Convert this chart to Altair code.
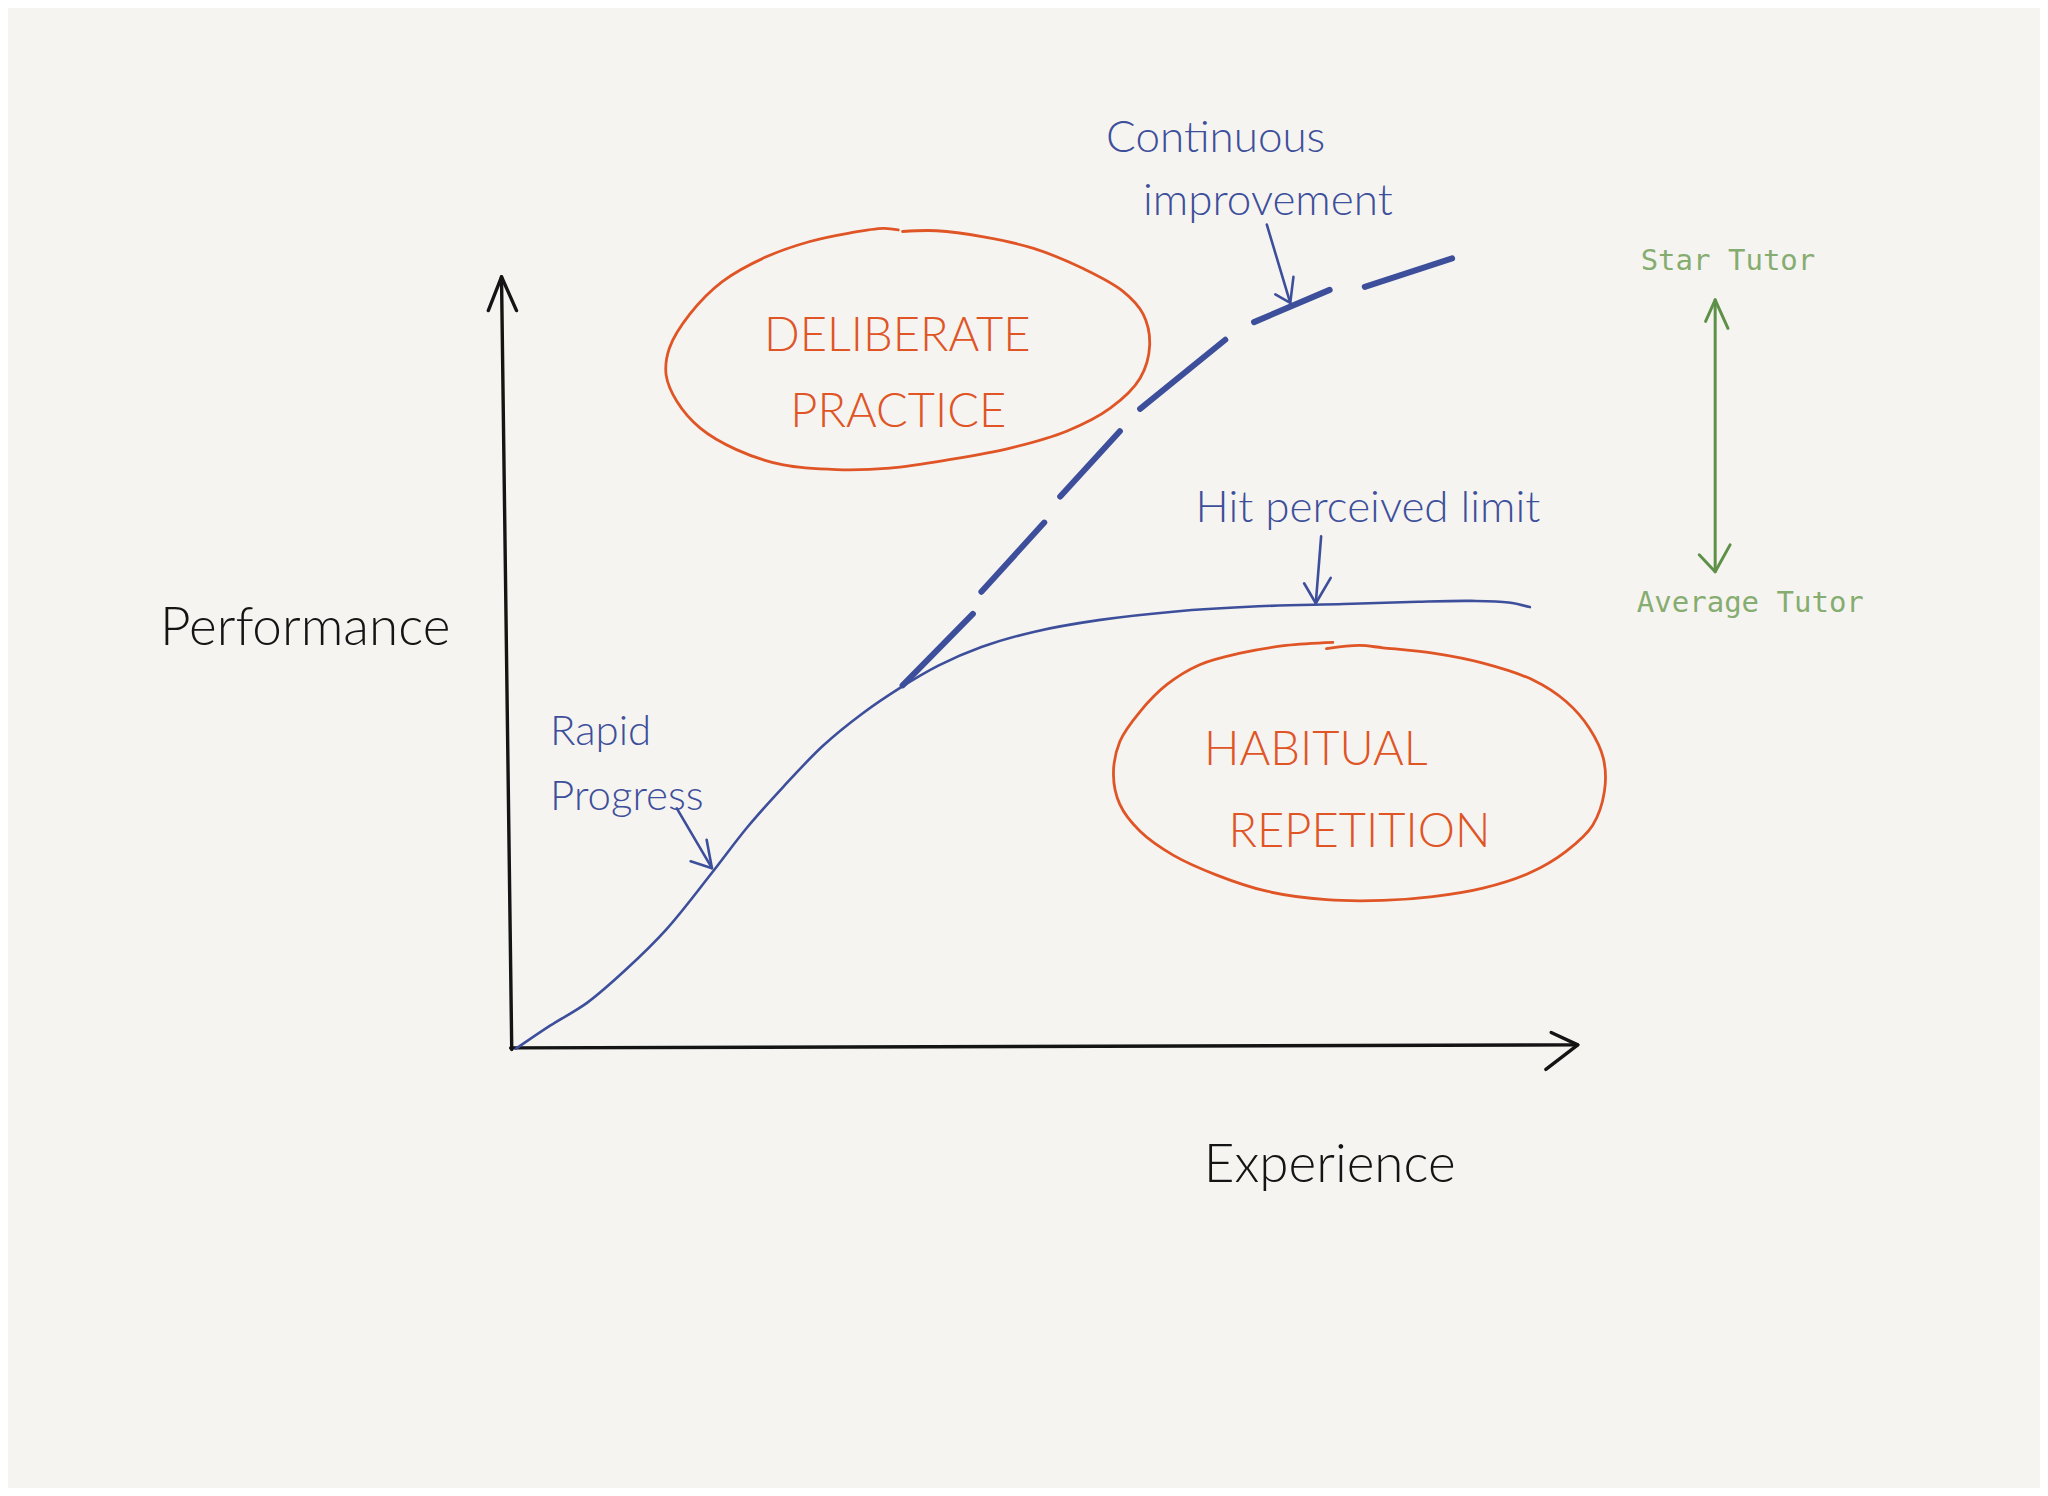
import altair as alt
import pandas as pd

# Coordinate system: Experience (x) and Performance (y), 0..100 along the drawn axes.
X_DOMAIN = [-47.4, 143.4]
Y_DOMAIN = [-57.7, 135.0]

# ---- axes (black) ----
AXIS_Y_X = [-0.1, -1.06]
AXIS_Y_Y = [-0.6, 100.0]
AXIS_Y_HEAD_X = [-2.3, -1.06, 0.35]
AXIS_Y_HEAD_Y = [95.6, 100.0, 95.6]
AXIS_X_X = [-0.2, 100.0]
AXIS_X_Y = [-0.4, 0.0]
AXIS_X_HEAD_X = [97.5, 100.0, 97.0]
AXIS_X_HEAD_Y = [1.6, 0.0, -3.2]

# ---- habitual repetition curve (solid blue) ----
HABIT_X = [0.3, 3.5, 7.0, 10.7, 14.4, 18.7, 22.0, 25.4, 29.1, 32.8, 36.4, 40.0,
           44.0, 49.0, 55.0, 62.0, 70.0, 78.0, 85.0, 90.0, 93.5, 95.5]
HABIT_Y = [-0.5, 2.5, 5.5, 9.9, 15.0, 22.4, 28.3, 33.6, 38.9, 43.1, 46.5, 49.4,
           51.8, 53.8, 55.3, 56.4, 57.1, 57.4, 57.7, 57.8, 57.6, 57.0]

# ---- deliberate practice curve (dashed blue), one pair per dash ----
DASH_X = [[36.6, 43.2], [44.0, 49.9], [51.4, 57.0], [58.9, 66.9], [69.6, 76.7], [80.0, 88.2]]
DASH_Y = [[46.8, 56.1], [59.0, 68.0], [71.4, 79.9], [82.8, 91.8], [94.1, 98.3], [98.7, 102.4]]

# ---- annotation arrows (blue) ----
ARROW_IMPROVE_X = [70.8, 73.0]
ARROW_IMPROVE_Y = [106.8, 96.6]
ARROW_IMPROVE_HEAD_X = [71.6, 73.0, 73.3]
ARROW_IMPROVE_HEAD_Y = [97.7, 96.6, 100.0]
ARROW_LIMIT_X = [75.9, 75.4]
ARROW_LIMIT_Y = [66.2, 57.5]
ARROW_LIMIT_HEAD_X = [74.3, 75.4, 76.8]
ARROW_LIMIT_HEAD_Y = [60.1, 57.5, 60.8]
ARROW_RAPID_X = [15.4, 18.7]
ARROW_RAPID_Y = [30.8, 23.0]
ARROW_RAPID_HEAD_X = [16.7, 18.7, 18.2]
ARROW_RAPID_HEAD_Y = [23.9, 23.0, 26.7]

# ---- hand-drawn ellipses (orange) ----
ELL_DELIB_X = [36.2, 34.8, 31.6, 27.9, 23.8, 19.7, 16.6, 14.7, 14.4, 15.4, 17.6, 21.0,
               25.4, 30.4, 35.4, 41.0, 46.7, 52.0, 56.1, 58.9, 59.8, 59.2, 57.3, 53.5,
               48.9, 44.2, 39.8, 36.6]
ELL_DELIB_Y = [106.1, 106.3, 105.7, 104.6, 102.6, 99.4, 95.1, 90.7, 87.2, 83.8, 80.3, 77.5,
               75.5, 74.9, 75.1, 76.2, 77.7, 79.9, 82.9, 86.8, 91.1, 95.1, 98.1, 101.1,
               103.7, 105.2, 106.0, 105.9]
ELL_HABIT_X = [77.0, 72.6, 68.3, 64.5, 61.4, 58.9, 57.0, 56.4, 57.0, 58.9, 62.0, 66.1,
               70.8, 76.4, 81.7, 86.4, 91.1, 95.5, 98.9, 101.4, 102.5, 102.4, 101.1, 98.9,
               95.8, 91.1, 86.4, 81.7, 79.5, 76.4]
ELL_HABIT_Y = [52.4, 52.0, 51.0, 49.5, 46.9, 43.4, 39.5, 35.2, 31.3, 27.8, 24.7, 22.1,
               20.0, 18.9, 18.8, 19.3, 20.4, 22.4, 25.2, 28.6, 33.0, 37.3, 41.2, 44.7,
               47.5, 49.7, 51.0, 51.7, 52.0, 51.6]

# ---- tutor range arrow (green) ----
GREEN_X = [112.9, 112.9]
GREEN_Y = [97.0, 61.6]
GREEN_TOP_HEAD_X = [112.0, 112.9, 114.1]
GREEN_TOP_HEAD_Y = [94.2, 97.0, 93.3]
GREEN_BOT_HEAD_X = [111.4, 112.9, 114.3]
GREEN_BOT_HEAD_Y = [63.8, 61.6, 65.1]

# ---- text labels ----
HAND_LABELS = ["Performance", "Experience"]
HAND_X = [-19.5, 76.7]
HAND_Y = [52.1, -17.8]

ZONE_LABELS = ["DELIBERATE", "PRACTICE", "HABITUAL", "REPETITION"]
ZONE_X = [36.1, 36.2, 75.4, 79.5]
ZONE_Y = [90.3, 80.5, 36.5, 25.7]

NOTE_LABELS = ["Continuous", "improvement", "Hit perceived limit"]
NOTE_X = [66.0, 70.9, 80.3]
NOTE_Y = [116.3, 108.1, 68.1]

RAPID_LABELS = ["Rapid", "Progress"]
RAPID_X = [3.5, 3.5]
RAPID_Y = [39.1, 30.6]

TUTOR_LABELS = ["Star Tutor", "Average Tutor"]
TUTOR_X = [114.1, 116.2]
TUTOR_Y = [100.9, 56.3]

# ---------------------------------------------------------------
BLACK = "#141414"
BLUE = "#3d4f9b"
ORANGE = "#df5526"
GREEN = "#5e9147"
GREEN_TEXT = "#86ad70"
BG = "#f6f4f1"

strokes = [
    ("y_axis", "axis", False, AXIS_Y_X, AXIS_Y_Y),
    ("y_head", "axis", False, AXIS_Y_HEAD_X, AXIS_Y_HEAD_Y),
    ("x_axis", "axis", False, AXIS_X_X, AXIS_X_Y),
    ("x_head", "axis", False, AXIS_X_HEAD_X, AXIS_X_HEAD_Y),
    ("habit", "curve", True, HABIT_X, HABIT_Y),
    ("arr_imp", "curve", False, ARROW_IMPROVE_X, ARROW_IMPROVE_Y),
    ("arr_imp_h", "curve", False, ARROW_IMPROVE_HEAD_X, ARROW_IMPROVE_HEAD_Y),
    ("arr_lim", "curve", False, ARROW_LIMIT_X, ARROW_LIMIT_Y),
    ("arr_lim_h", "curve", False, ARROW_LIMIT_HEAD_X, ARROW_LIMIT_HEAD_Y),
    ("arr_rap", "curve", False, ARROW_RAPID_X, ARROW_RAPID_Y),
    ("arr_rap_h", "curve", False, ARROW_RAPID_HEAD_X, ARROW_RAPID_HEAD_Y),
    ("ell_d", "ellipse", True, ELL_DELIB_X, ELL_DELIB_Y),
    ("ell_h", "ellipse", True, ELL_HABIT_X, ELL_HABIT_Y),
    ("green", "green", False, GREEN_X, GREEN_Y),
    ("green_t", "green", False, GREEN_TOP_HEAD_X, GREEN_TOP_HEAD_Y),
    ("green_b", "green", False, GREEN_BOT_HEAD_X, GREEN_BOT_HEAD_Y),
]
for i, (dx, dy) in enumerate(zip(DASH_X, DASH_Y)):
    strokes.append((f"dash{i}", "dash", False, dx, dy))

rows = []
for name, kind, smooth, xs, ys in strokes:
    for j, (xv, yv) in enumerate(zip(xs, ys)):
        rows.append({"stroke": name, "kind": kind, "smooth": smooth,
                     "seq": j, "x": xv, "y": yv})
df = pd.DataFrame(rows)

xs_enc = alt.X("x:Q", scale=alt.Scale(domain=X_DOMAIN, nice=False, zero=False), axis=None)
ys_enc = alt.Y("y:Q", scale=alt.Scale(domain=Y_DOMAIN, nice=False, zero=False), axis=None)

style = {
    "axis": (BLACK, 3.4),
    "curve": (BLUE, 2.6),
    "dash": (BLUE, 6.0),
    "ellipse": (ORANGE, 2.8),
    "green": (GREEN, 3.0),
}

layers = []
for kind in ["ellipse", "axis", "green", "curve", "dash"]:
    color, width = style[kind]
    for smooth in (True, False):
        sub = df[(df.kind == kind) & (df.smooth == smooth)]
        if sub.empty:
            continue
        layers.append(
            alt.Chart(sub).mark_line(
                color=color, strokeWidth=width, strokeCap="round", strokeJoin="round",
                interpolate="catmull-rom" if smooth else "linear",
            ).encode(x=xs_enc, y=ys_enc, detail="stroke:N", order="seq:Q")
        )


def text_layer(labels, xv, yv, color, size, font, align="center", weight=300):
    t = pd.DataFrame({"label": labels, "x": xv, "y": yv})
    return alt.Chart(t).mark_text(
        color=color, fontSize=size, font=font, align=align,
        baseline="alphabetic", fontWeight=weight,
    ).encode(x=xs_enc, y=ys_enc, text="label:N")


layers.append(text_layer(HAND_LABELS, HAND_X, HAND_Y, BLACK, 53, "Lato"))
layers.append(text_layer(ZONE_LABELS, ZONE_X, ZONE_Y, ORANGE, 47, "Lato"))
layers.append(text_layer(NOTE_LABELS, NOTE_X, NOTE_Y, BLUE, 44, "Lato"))
layers.append(text_layer(RAPID_LABELS, RAPID_X, RAPID_Y, BLUE, 42, "Lato", align="left"))
layers.append(text_layer(TUTOR_LABELS, TUTOR_X, TUTOR_Y, GREEN_TEXT, 29,
                         "DejaVu Sans Mono", weight=400))

chart = alt.layer(*layers).properties(
    width=2032, height=1480, background=BG, padding=0,
    autosize=alt.AutoSizeParams(type="fit", contains="padding"),
).configure_view(stroke=None)

chart.save("out.html", embed_options={"renderer": "svg", "actions": False})
